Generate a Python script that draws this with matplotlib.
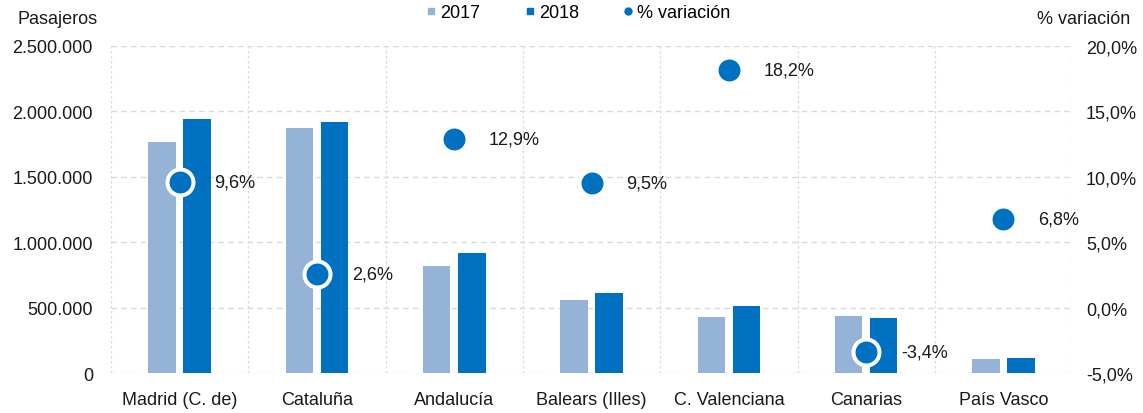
import matplotlib.pyplot as plt
from matplotlib.lines import Line2D
from matplotlib.ticker import FuncFormatter
import numpy as np

plt.rcParams['font.family'] = ['Liberation Sans', 'DejaVu Sans']

# Data
regions = ['Madrid (C. de)', 'Cataluña', 'Andalucía', 'Balears (Illes)',
           'C. Valenciana', 'Canarias', 'País Vasco']
pax_2017 = [1766000, 1873000, 818000, 558000, 428000, 436000, 107000]
pax_2018 = [1942000, 1919000, 917000, 612000, 512000, 420000, 115000]
variation = [9.6, 2.6, 12.9, 9.5, 18.2, -3.4, 6.8]

c17 = '#95B3D7'
c18 = '#0070C0'
grid_c = '#D9D9D9'
txt_c = '#1a1a1a'
fs = 13

fig = plt.figure(figsize=(11.43, 4.14), dpi=100)
ax = fig.add_axes([0.0971, 0.0966, 0.8409, 0.7899])
ax2 = ax.twinx()

x = np.arange(len(regions))
w = 0.2
ax.bar(x - 0.128, pax_2017, width=w, color=c17, zorder=2)
ax.bar(x + 0.128, pax_2018, width=w, color=c18, zorder=2)

ax.set_xlim(-0.5, len(regions) - 0.5)
ax.set_ylim(0, 2500000)
ax.set_yticks(np.arange(0, 2500001, 500000))
ax.yaxis.set_major_formatter(FuncFormatter(lambda v, p: f'{int(v):,}'.replace(',', '.')))
ax.set_xticks(x)
ax.set_xticklabels(regions)

# grid: horizontal dashed lines and vertical category separators
for yv in np.arange(0, 2500001, 500000):
    ax.axhline(yv, color=grid_c, lw=1, ls=(0, (4, 3)), zorder=0)
for xv in np.arange(-0.5, len(regions), 1):
    ax.axvline(xv, color=grid_c, lw=0.9, ls=(0, (2, 2)), zorder=0)

ax2.set_ylim(-5, 20)
ax2.set_yticks(np.arange(-5, 20.1, 5))
ax2.yaxis.set_major_formatter(FuncFormatter(lambda v, p: f'{v:.1f}%'.replace('.', ',')))
ax2.plot(x, variation, ls='none', marker='o', ms=18.7, color=c18,
         markeredgecolor='white', markeredgewidth=2.9, zorder=3)
for xi, v in zip(x, variation):
    ax2.annotate(f'{v:.1f}%'.replace('.', ','), (xi, v), xytext=(25, 0),
                 textcoords='offset points', va='center', ha='left',
                 fontsize=fs, color=txt_c)

for a in (ax, ax2):
    for s in a.spines.values():
        s.set_visible(False)
    a.tick_params(length=0, labelsize=fs, colors=txt_c)
ax.tick_params(axis='y', pad=13)
ax.tick_params(axis='x', pad=13)
ax2.tick_params(axis='y', pad=10)

fig.text(98 / 1143, 1 - 20 / 414, 'Pasajeros', ha='right', va='center',
         fontsize=fs, color=txt_c)
fig.text(1130 / 1143, 1 - 20 / 414, '% variación', ha='right', va='center',
         fontsize=fs, color=txt_c)

handles = [
    Line2D([], [], ls='none', marker='s', ms=5, color=c17, label='2017'),
    Line2D([], [], ls='none', marker='s', ms=5, color=c18, label='2018'),
    Line2D([], [], ls='none', marker='o', ms=5, color=c18, label='% variación'),
]
fig.legend(handles=handles, loc='center', bbox_to_anchor=(0.505, 1 - 14 / 414),
           ncol=3, frameon=False, fontsize=fs, handletextpad=0.1,
           columnspacing=2.35, handlelength=0.8)

fig.savefig('out.png', dpi=100)
